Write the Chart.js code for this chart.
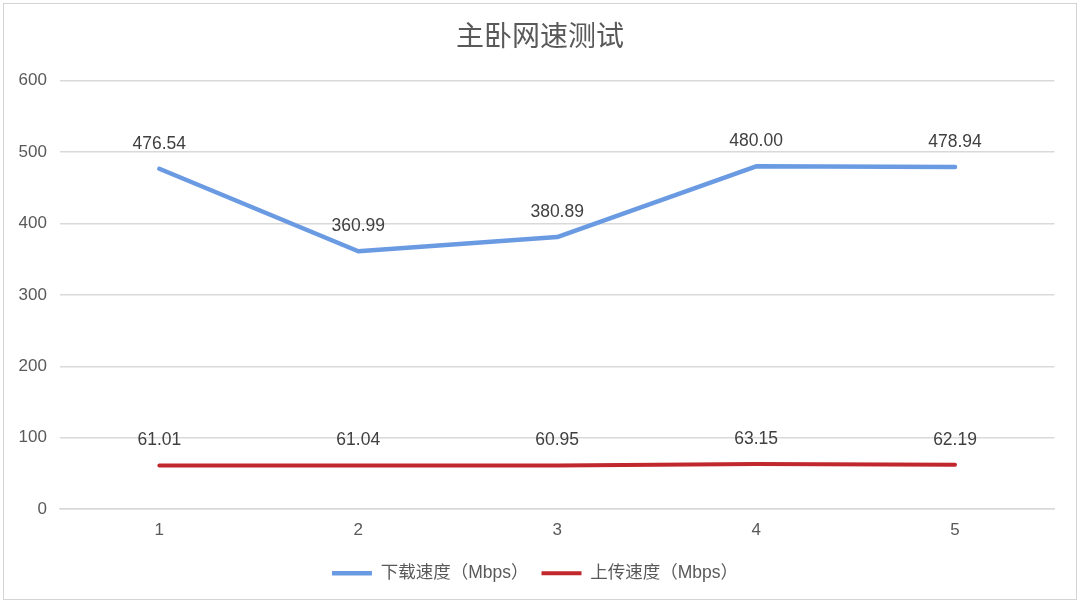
<!DOCTYPE html>
<html>
<head>
<meta charset="utf-8">
<script src="https://cdn.jsdelivr.net/npm/chart.js@4"></script>
<style>
  html, body { margin: 0; padding: 0; background: #fff; }
  .frame { position: absolute; left: 3px; top: 3px; width: 1072px; height: 595px; border: 1px solid #d4d4d4; }
  .wrap { position: absolute; left: 0; top: 0; width: 1080px; height: 604px; }
</style>
</head>
<body>
<div class="frame"></div>
<div class="wrap"><canvas id="chart" width="1080" height="604"></canvas></div>
<script>
const labels = ['1', '2', '3', '4', '5'];
const downloadSpeed = [476.54, 360.99, 380.89, 480.00, 478.94];
const uploadSpeed = [61.01, 61.04, 60.95, 63.15, 62.19];
const seriesNames = ['下载速度（Mbps）', '上传速度（Mbps）'];
const seriesColors = ['#6a9be2', '#c0282d'];

const FONT = '"Liberation Sans", "Noto Sans CJK SC", sans-serif';

// draws value labels above each point
const valueLabels = {
  id: 'valueLabels',
  afterDatasetsDraw(chart) {
    const ctx = chart.ctx;
    ctx.save();
    ctx.font = '17.5px ' + FONT;
    ctx.fillStyle = '#404040';
    ctx.textAlign = 'center';
    ctx.textBaseline = 'middle';
    chart.data.datasets.forEach((ds, i) => {
      chart.getDatasetMeta(i).data.forEach((pt, j) => {
        ctx.fillText(ds.data[j].toFixed(2), pt.x, pt.y - 25);
      });
    });
    ctx.restore();
  }
};

// center title on the whole canvas, nudge legend a little right
const recenter = {
  id: 'recenter',
  afterLayout(chart) {
    const t = chart.titleBlock;
    t.left = 0; t.right = chart.width; t.width = chart.width;
    const l = chart.legend;
    l.left += 5; l.right += 5;
  }
};

new Chart(document.getElementById('chart'), {
  type: 'line',
  data: {
    labels: labels,
    datasets: [
      {
        label: seriesNames[0],
        data: downloadSpeed,
        borderColor: seriesColors[0],
        backgroundColor: seriesColors[0],
        borderWidth: 4.5,
        borderCapStyle: 'round',
        borderJoinStyle: 'round',
        pointRadius: 0,
        tension: 0
      },
      {
        label: seriesNames[1],
        data: uploadSpeed,
        borderColor: seriesColors[1],
        backgroundColor: seriesColors[1],
        borderWidth: 4,
        borderCapStyle: 'round',
        borderJoinStyle: 'round',
        pointRadius: 0,
        tension: 0
      }
    ]
  },
  options: {
    responsive: false,
    animation: false,
    devicePixelRatio: 1,
    layout: { padding: { left: 5.5, right: 25.5, top: 16, bottom: 12 } },
    plugins: {
      title: {
        display: true,
        text: '主卧网速测试',
        color: '#595959',
        font: { family: FONT, size: 28, weight: 'normal' },
        padding: { top: 5, bottom: 26 }
      },
      legend: {
        position: 'bottom',
        labels: {
          color: '#595959',
          font: { family: FONT, size: 17.5 },
          usePointStyle: true,
          pointStyle: 'line',
          pointStyleWidth: 40,
          padding: 13
        }
      },
      tooltip: { enabled: false }
    },
    scales: {
      x: {
        offset: true,
        grid: { display: false, drawTicks: false },
        border: { color: '#d9d9d9', width: 1.5 },
        ticks: { color: '#595959', font: { family: FONT, size: 17 }, padding: 11 }
      },
      y: {
        min: 0,
        max: 600,
        ticks: { stepSize: 100, color: '#595959', font: { family: FONT, size: 17 }, padding: 13 },
        grid: { color: '#d9d9d9', lineWidth: 1.5, drawTicks: false },
        border: { display: false }
      }
    }
  },
  plugins: [valueLabels, recenter]
});
</script>
</body>
</html>
